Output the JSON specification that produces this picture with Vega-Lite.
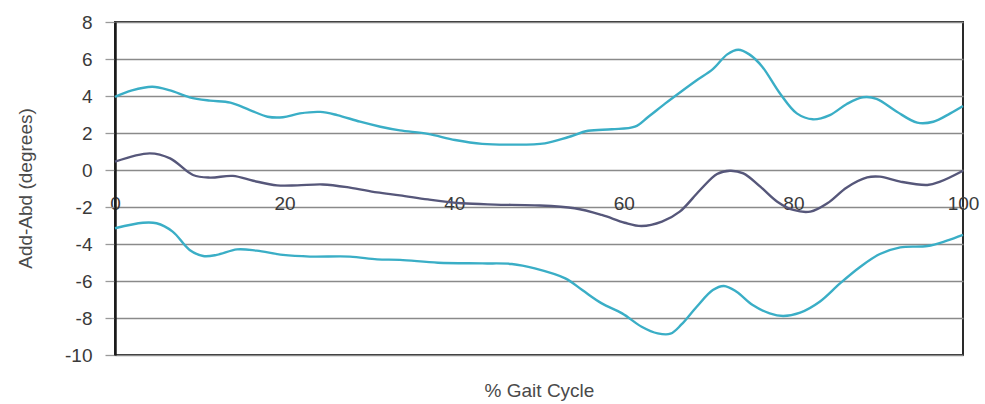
{
  "$schema": "https://vega.github.io/schema/vega-lite/v6.json",
  "autosize": "none",
  "width": 848,
  "height": 333,
  "padding": {"left": 115, "top": 22, "right": 22, "bottom": 49},
  "background": "white",
  "config": {
    "font": "Liberation Sans",
    "view": {"stroke": "#2a2a2a", "strokeWidth": 2}
  },
  "data": {
    "values": [
      {"p": 0, "v": 3.95, "s": "upper"}, {"p": 2, "v": 4.3, "s": "upper"}, {"p": 4.4, "v": 4.5, "s": "upper"},
      {"p": 6.5, "v": 4.3, "s": "upper"}, {"p": 8.8, "v": 3.93, "s": "upper"}, {"p": 11.2, "v": 3.75, "s": "upper"},
      {"p": 13.6, "v": 3.64, "s": "upper"}, {"p": 15.9, "v": 3.24, "s": "upper"}, {"p": 18, "v": 2.88, "s": "upper"},
      {"p": 19.8, "v": 2.85, "s": "upper"}, {"p": 21.8, "v": 3.06, "s": "upper"}, {"p": 24.2, "v": 3.14, "s": "upper"},
      {"p": 26.2, "v": 2.97, "s": "upper"}, {"p": 28.9, "v": 2.61, "s": "upper"}, {"p": 31.3, "v": 2.34, "s": "upper"},
      {"p": 33.6, "v": 2.14, "s": "upper"}, {"p": 36.9, "v": 1.95, "s": "upper"}, {"p": 40.1, "v": 1.62, "s": "upper"},
      {"p": 43.3, "v": 1.41, "s": "upper"}, {"p": 46.8, "v": 1.37, "s": "upper"}, {"p": 50.7, "v": 1.44, "s": "upper"},
      {"p": 53.4, "v": 1.77, "s": "upper"}, {"p": 55.8, "v": 2.12, "s": "upper"}, {"p": 58.6, "v": 2.2, "s": "upper"},
      {"p": 61.3, "v": 2.34, "s": "upper"}, {"p": 62.9, "v": 2.88, "s": "upper"}, {"p": 64.9, "v": 3.6, "s": "upper"},
      {"p": 66.8, "v": 4.25, "s": "upper"}, {"p": 68.6, "v": 4.85, "s": "upper"}, {"p": 70.5, "v": 5.45, "s": "upper"},
      {"p": 72.2, "v": 6.25, "s": "upper"}, {"p": 73.5, "v": 6.5, "s": "upper"}, {"p": 74.8, "v": 6.25, "s": "upper"},
      {"p": 76.3, "v": 5.6, "s": "upper"}, {"p": 78.4, "v": 4.15, "s": "upper"}, {"p": 80.4, "v": 3.06, "s": "upper"},
      {"p": 82.3, "v": 2.74, "s": "upper"}, {"p": 84.3, "v": 2.97, "s": "upper"}, {"p": 86.3, "v": 3.57, "s": "upper"},
      {"p": 88.2, "v": 3.93, "s": "upper"}, {"p": 89.8, "v": 3.85, "s": "upper"}, {"p": 92.2, "v": 3.15, "s": "upper"},
      {"p": 94.6, "v": 2.56, "s": "upper"}, {"p": 96.5, "v": 2.61, "s": "upper"}, {"p": 98.5, "v": 3.06, "s": "upper"},
      {"p": 100, "v": 3.46, "s": "upper"},

      {"p": 0, "v": 0.45, "s": "mean"}, {"p": 4.1, "v": 0.9, "s": "mean"}, {"p": 6.5, "v": 0.63, "s": "mean"},
      {"p": 9.2, "v": -0.27, "s": "mean"}, {"p": 11.2, "v": -0.41, "s": "mean"}, {"p": 13.9, "v": -0.32, "s": "mean"},
      {"p": 16.3, "v": -0.58, "s": "mean"}, {"p": 19.1, "v": -0.83, "s": "mean"}, {"p": 21.5, "v": -0.83, "s": "mean"},
      {"p": 24.5, "v": -0.78, "s": "mean"}, {"p": 27.7, "v": -0.95, "s": "mean"}, {"p": 30.9, "v": -1.21, "s": "mean"},
      {"p": 33.6, "v": -1.37, "s": "mean"}, {"p": 36.9, "v": -1.59, "s": "mean"}, {"p": 40.9, "v": -1.8, "s": "mean"},
      {"p": 44.8, "v": -1.87, "s": "mean"}, {"p": 49.5, "v": -1.91, "s": "mean"}, {"p": 54.2, "v": -2.07, "s": "mean"},
      {"p": 57.4, "v": -2.43, "s": "mean"}, {"p": 60.1, "v": -2.85, "s": "mean"}, {"p": 62.1, "v": -3.03, "s": "mean"},
      {"p": 64.5, "v": -2.79, "s": "mean"}, {"p": 66.6, "v": -2.25, "s": "mean"}, {"p": 69, "v": -1.08, "s": "mean"},
      {"p": 71, "v": -0.22, "s": "mean"}, {"p": 72.5, "v": -0.04, "s": "mean"}, {"p": 74.1, "v": -0.18, "s": "mean"},
      {"p": 76.1, "v": -0.9, "s": "mean"}, {"p": 78.1, "v": -1.71, "s": "mean"}, {"p": 80, "v": -2.16, "s": "mean"},
      {"p": 82, "v": -2.25, "s": "mean"}, {"p": 84, "v": -1.8, "s": "mean"}, {"p": 86.3, "v": -0.94, "s": "mean"},
      {"p": 88.7, "v": -0.4, "s": "mean"}, {"p": 90.2, "v": -0.36, "s": "mean"}, {"p": 92.6, "v": -0.63, "s": "mean"},
      {"p": 95.8, "v": -0.81, "s": "mean"}, {"p": 97.3, "v": -0.63, "s": "mean"}, {"p": 100, "v": -0.04, "s": "mean"},

      {"p": 0, "v": -3.15, "s": "lower"}, {"p": 3.3, "v": -2.85, "s": "lower"}, {"p": 4.9, "v": -2.88, "s": "lower"},
      {"p": 6.8, "v": -3.33, "s": "lower"}, {"p": 8.8, "v": -4.32, "s": "lower"}, {"p": 10.4, "v": -4.65, "s": "lower"},
      {"p": 12, "v": -4.59, "s": "lower"}, {"p": 14.4, "v": -4.29, "s": "lower"}, {"p": 16.7, "v": -4.36, "s": "lower"},
      {"p": 19.8, "v": -4.59, "s": "lower"}, {"p": 23, "v": -4.68, "s": "lower"}, {"p": 27.7, "v": -4.68, "s": "lower"},
      {"p": 30.9, "v": -4.83, "s": "lower"}, {"p": 33.6, "v": -4.86, "s": "lower"}, {"p": 38.1, "v": -5.01, "s": "lower"},
      {"p": 43.3, "v": -5.05, "s": "lower"}, {"p": 46.8, "v": -5.08, "s": "lower"}, {"p": 49.5, "v": -5.32, "s": "lower"},
      {"p": 53.1, "v": -5.86, "s": "lower"}, {"p": 55.1, "v": -6.49, "s": "lower"}, {"p": 57.4, "v": -7.21, "s": "lower"},
      {"p": 59.8, "v": -7.75, "s": "lower"}, {"p": 62.1, "v": -8.47, "s": "lower"}, {"p": 64, "v": -8.83, "s": "lower"},
      {"p": 65.5, "v": -8.85, "s": "lower"}, {"p": 66.8, "v": -8.35, "s": "lower"}, {"p": 68.6, "v": -7.39, "s": "lower"},
      {"p": 70.5, "v": -6.49, "s": "lower"}, {"p": 71.8, "v": -6.27, "s": "lower"}, {"p": 73.3, "v": -6.58, "s": "lower"},
      {"p": 75.2, "v": -7.3, "s": "lower"}, {"p": 77.2, "v": -7.75, "s": "lower"}, {"p": 78.8, "v": -7.89, "s": "lower"},
      {"p": 80.8, "v": -7.71, "s": "lower"}, {"p": 83.1, "v": -7.12, "s": "lower"}, {"p": 85.5, "v": -6.13, "s": "lower"},
      {"p": 87.9, "v": -5.23, "s": "lower"}, {"p": 90.2, "v": -4.54, "s": "lower"}, {"p": 92.6, "v": -4.18, "s": "lower"},
      {"p": 95.8, "v": -4.11, "s": "lower"}, {"p": 98.1, "v": -3.82, "s": "lower"}, {"p": 100, "v": -3.51, "s": "lower"}
    ]
  },
  "mark": {"type": "line", "interpolate": "catmull-rom", "strokeWidth": 2.4},
  "encoding": {
    "x": {
      "field": "p",
      "type": "quantitative",
      "scale": {"domain": [0, 100], "nice": false, "zero": false},
      "axis": {
        "title": "% Gait Cycle",
        "values": [0, 20, 40, 60, 80, 100],
        "orient": "bottom",
        "offset": -162,
        "grid": false,
        "domain": false,
        "ticks": false,
        "labelPadding": 1,
        "labelFlush": false,
        "labelOverlap": false,
        "labelFontSize": 19,
        "labelColor": "#3a3a3a",
        "titleFontSize": 19,
        "titleFontWeight": "normal",
        "titleColor": "#4a4a4a",
        "titleBaseline": "middle",
        "titleY": 197
      }
    },
    "y": {
      "field": "v",
      "type": "quantitative",
      "scale": {"domain": [-10, 8], "nice": false, "zero": false},
      "axis": {
        "title": "Add-Abd (degrees)",
        "values": [-10, -8, -6, -4, -2, 0, 2, 4, 6, 8],
        "labelExpr": "datum.value < 0 ? '-' + abs(datum.value) : '' + datum.value",
        "grid": true,
        "gridColor": "#8a8a8a",
        "gridWidth": 1.3,
        "gridOpacity": 1,
        "domain": true,
        "domainColor": "#1a1a1a",
        "domainWidth": 2.5,
        "ticks": true,
        "tickColor": "#9a9a9a",
        "tickSize": 10,
        "tickWidth": 1.3,
        "labelPadding": 13,
        "labelFontSize": 19,
        "labelColor": "#3a3a3a",
        "titleFontSize": 19,
        "titleFontWeight": "normal",
        "titleColor": "#4a4a4a",
        "titleAngle": -90,
        "titleBaseline": "middle",
        "titleX": -90,
        "titleY": 166
      }
    },
    "color": {
      "field": "s",
      "type": "nominal",
      "scale": {"domain": ["upper", "mean", "lower"], "range": ["#3aaec6", "#56577a", "#3aaec6"]},
      "legend": null
    },
    "detail": {"field": "s"}
  }
}
